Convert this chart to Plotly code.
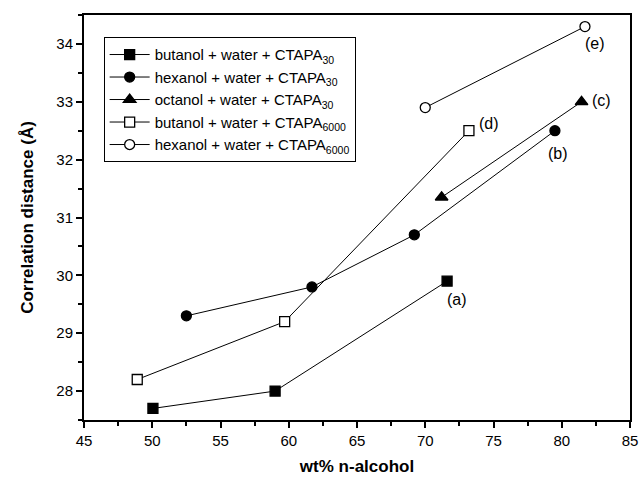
import plotly.graph_objects as go

# Data
names = [
    "butanol + water + CTAPA<sub>30</sub>",
    "hexanol + water + CTAPA<sub>30</sub>",
    "octanol + water + CTAPA<sub>30</sub>",
    "butanol + water + CTAPA<sub>6000</sub>",
    "hexanol + water + CTAPA<sub>6000</sub>",
]
x_but30 = [50.05, 59.0, 71.6]
y_but30 = [27.7, 28.0, 29.9]
x_hex30 = [52.5, 61.7, 69.2, 79.5]
y_hex30 = [29.3, 29.8, 30.7, 32.5]
x_oct30 = [71.2, 81.45]
y_oct30 = [31.35, 33.0]
x_but6000 = [48.9, 59.7, 73.2]
y_but6000 = [28.2, 29.2, 32.5]
x_hex6000 = [70.0, 81.7]
y_hex6000 = [32.9, 34.3]

label_text = ["(a)", "(b)", "(c)", "(d)", "(e)"]
label_x = [72.3, 79.75, 82.9, 74.65, 82.4]
label_y = [29.58, 32.1, 33.03, 32.63, 34.0]

series = [
    (x_but30, y_but30, "square", "black"),
    (x_hex30, y_hex30, "circle", "black"),
    (x_oct30, y_oct30, "triangle-up", "black"),
    (x_but6000, y_but6000, "square", "white"),
    (x_hex6000, y_hex6000, "circle", "white"),
]

fig = go.Figure()
for (xs, ys, sym, fill), nm in zip(series, names):
    fig.add_trace(go.Scatter(
        x=xs, y=ys, mode="lines+markers", name=nm,
        line=dict(color="black", width=1),
        marker=dict(symbol=sym, size=10 if sym != "triangle-up" else 11,
                    color=fill, line=dict(color="black", width=1.3)),
    ))

for t, lx, ly in zip(label_text, label_x, label_y):
    fig.add_annotation(x=lx, y=ly, text=t, showarrow=False,
                       font=dict(family="Arial, Liberation Sans", size=16, color="black"))

axis_common = dict(
    showline=True, linecolor="black", linewidth=2, mirror=True,
    ticks="outside", ticklen=6, tickwidth=2, tickcolor="black",
    showgrid=False, zeroline=False, automargin=False,
    tickfont=dict(family="Arial, Liberation Sans", size=15, color="black"),
)

fig.update_layout(
    width=640, height=484,
    margin=dict(l=84, r=10, t=15, b=64),
    plot_bgcolor="white", paper_bgcolor="white",
    font=dict(family="Arial, Liberation Sans", color="black"),
    xaxis=dict(range=[45, 85], dtick=5,
               minor=dict(ticks="outside", ticklen=4, tickwidth=1.5, tickcolor="black", dtick=2.5),
               title=dict(text="<b>wt% n-alcohol</b>", font=dict(size=17), standoff=12),
               **axis_common),
    yaxis=dict(range=[27.5, 34.5], dtick=1,
               minor=dict(ticks="outside", ticklen=4, tickwidth=1.5, tickcolor="black", dtick=0.5),
               title=dict(text="<b>Correlation distance (Å)</b>", font=dict(size=17), standoff=18),
               **axis_common),
    legend=dict(x=0.036, y=0.945, xanchor="left", yanchor="top",
                bordercolor="black", borderwidth=1, bgcolor="white",
                font=dict(family="Arial, Liberation Sans", size=15, color="black"),
                tracegroupgap=0, itemwidth=40),
    showlegend=True,
)

fig.write_html("out.html")
